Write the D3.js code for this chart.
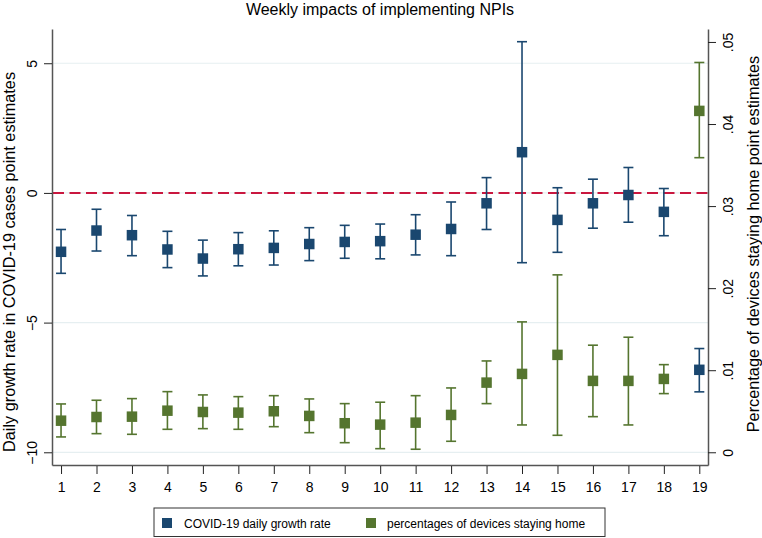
<!DOCTYPE html>
<html>
<head>
<meta charset="utf-8">
<script src="https://cdn.jsdelivr.net/npm/d3@7"></script>
<style>
  html, body { margin: 0; padding: 0; background: #fff; }
  svg { display: block; font-family: "Liberation Sans", Arial, Helvetica, sans-serif; }
</style>
</head>
<body>
<svg id="chart" width="762" height="538"></svg>
<script>
// ---- Data ----
const weeks = [1,2,3,4,5,6,7,8,9,10,11,12,13,14,15,16,17,18,19];
const covidEst = [-2.27,-1.45,-1.63,-2.18,-2.53,-2.17,-2.12,-1.97,-1.89,-1.86,-1.61,-1.39,-0.40,1.57,-1.04,-0.40,-0.08,-0.73,-6.82];
const covidLo  = [-3.10,-2.24,-2.42,-2.88,-3.20,-2.81,-2.78,-2.61,-2.52,-2.54,-2.39,-2.42,-1.41,-2.69,-2.29,-1.36,-1.13,-1.65,-7.67];
const covidHi  = [-1.41,-0.63,-0.87,-1.48,-1.82,-1.53,-1.46,-1.34,-1.25,-1.20,-0.84,-0.35,0.59,5.83,0.20,0.53,0.98,0.17,-6.00];
const devEst = [0.00385,0.00430,0.00434,0.00507,0.00491,0.00483,0.00500,0.00443,0.00354,0.00337,0.00361,0.00455,0.00849,0.00955,0.01187,0.00870,0.00870,0.00894,0.0416];
const devLo  = [0.00187,0.00227,0.00219,0.00280,0.00288,0.00280,0.00312,0.00239,0.00117,0.00044,0.00037,0.00134,0.00593,0.00333,0.00207,0.00434,0.00333,0.00715,0.0359];
const devHi  = [0.00589,0.00634,0.00654,0.00739,0.00699,0.00678,0.00690,0.00650,0.00593,0.00610,0.00690,0.00784,0.01113,0.01589,0.02162,0.01305,0.01402,0.01068,0.0475];
const leftTicks = [-10,-5,0,5];
const rightTicks = [0,0.01,0.02,0.03,0.04,0.05];
const seriesNames = ["COVID-19 daily growth rate", "percentages of devices staying home"];
const titleText = "Weekly impacts of implementing NPIs";
const leftTitle = "Daily growth rate in COVID-19 cases point estimates";
const rightTitle = "Percentage of devices staying home point estimates";

// ---- Style ----
const BLUE = "#1a476f", GREEN = "#55752f", RED = "#c9173f", GRID = "#e6eff1";
const L = 52, R = 708, T = 29, B = 465;

const svg = d3.select("#chart");
const x = d3.scaleLinear().domain([0.745, 19.245]).range([L, R]);
const yL = d3.scaleLinear().domain([-10.49, 6.32]).range([B, T]);
const yR = d3.scaleLinear().domain([-0.00155, 0.05158]).range([B, T]);

// gridlines
svg.append("g").selectAll("line").data(leftTicks).join("line")
  .attr("x1", L).attr("x2", R)
  .attr("y1", d => yL(d)).attr("y2", d => yL(d))
  .attr("stroke", GRID).attr("stroke-width", 1.2);

// zero reference line
svg.append("line")
  .attr("x1", L + 1).attr("x2", R)
  .attr("y1", yL(0)).attr("y2", yL(0))
  .attr("stroke", RED).attr("stroke-width", 2)
  .attr("stroke-dasharray", "11,5.5");

// axes
const fmtR = d => d === 0 ? "0" : d3.format(".2f")(d).replace(/^0/, "");
const gL = svg.append("g").attr("transform", `translate(${L},0)`)
  .call(d3.axisLeft(yL).tickValues(leftTicks).tickSize(8).tickSizeOuter(0));
const gR = svg.append("g").attr("transform", `translate(${R},0)`)
  .call(d3.axisRight(yR).tickValues(rightTicks).tickFormat(fmtR).tickSize(8).tickSizeOuter(0));
const gB = svg.append("g").attr("transform", `translate(0,${B})`)
  .call(d3.axisBottom(x).tickValues(weeks).tickFormat(d3.format("d")).tickSize(8).tickSizeOuter(0));

[gL, gR, gB].forEach(g => {
  g.select(".domain").attr("stroke", "#555").attr("stroke-width", 1.5);
  g.selectAll(".tick line").attr("stroke", "#222").attr("stroke-width", 1);
  g.selectAll(".tick text").attr("fill", "#000").style("font-size", "14px")
    .style("font-family", "\"Liberation Sans\", Arial, Helvetica, sans-serif");
});
gL.selectAll(".tick text").attr("x", 0).attr("y", 0).attr("dy", 0)
  .attr("text-anchor", "middle").attr("transform", "translate(-15,0) rotate(-90)");
gR.selectAll(".tick text").attr("x", 0).attr("y", 0).attr("dy", 0)
  .attr("text-anchor", "middle").attr("transform", "translate(25,0) rotate(-90)");
gB.selectAll(".tick line").attr("y1", 1).attr("y2", 9);
gB.selectAll(".tick text").attr("y", 26.5).attr("dy", 0);
gL.attr("font-size", null); gR.attr("font-size", null); gB.attr("font-size", null);

// error bars + markers
function drawSeries(est, lo, hi, yScale, color) {
  const data = weeks.map((w, i) => ({w, e: est[i], l: lo[i], h: hi[i]}));
  const g = svg.append("g").attr("stroke", color).attr("fill", color);
  const cap = 5, ms = 10.5;
  g.selectAll("line.v").data(data).join("line").attr("class", "v")
    .attr("x1", d => x(d.w)).attr("x2", d => x(d.w))
    .attr("y1", d => yScale(d.l)).attr("y2", d => yScale(d.h)).attr("stroke-width", 1.6);
  g.selectAll("line.ch").data(data).join("line").attr("class", "ch")
    .attr("x1", d => x(d.w) - cap).attr("x2", d => x(d.w) + cap)
    .attr("y1", d => yScale(d.h)).attr("y2", d => yScale(d.h)).attr("stroke-width", 1.6);
  g.selectAll("line.cl").data(data).join("line").attr("class", "cl")
    .attr("x1", d => x(d.w) - cap).attr("x2", d => x(d.w) + cap)
    .attr("y1", d => yScale(d.l)).attr("y2", d => yScale(d.l)).attr("stroke-width", 1.6);
  g.selectAll("rect").data(data).join("rect")
    .attr("x", d => x(d.w) - ms / 2).attr("y", d => yScale(d.e) - ms / 2)
    .attr("width", ms).attr("height", ms).attr("stroke", "none");
}
drawSeries(devEst, devLo, devHi, yR, GREEN);
drawSeries(covidEst, covidLo, covidHi, yL, BLUE);

// title
svg.append("text").attr("x", 380).attr("y", 15).attr("text-anchor", "middle")
  .style("font-size", "16px").attr("fill", "#000").text(titleText);

// axis titles
svg.append("text").attr("transform", "translate(15,262) rotate(-90)")
  .attr("text-anchor", "middle").style("font-size", "16.3px").attr("fill", "#000").text(leftTitle);
svg.append("text").attr("transform", "translate(759,244) rotate(-90)")
  .attr("text-anchor", "middle").style("font-size", "16.3px").attr("fill", "#000").text(rightTitle);

// legend
const lg = svg.append("g");
lg.append("rect").attr("x", 154).attr("y", 508).attr("width", 451).attr("height", 28.5)
  .attr("fill", "#fff").attr("stroke", "#333").attr("stroke-width", 1);
const legendItems = [
  {name: seriesNames[0], color: BLUE, mx: 167, tx: 184},
  {name: seriesNames[1], color: GREEN, mx: 371, tx: 387}
];
legendItems.forEach(it => {
  lg.append("rect").attr("x", it.mx - 5).attr("y", 518).attr("width", 10).attr("height", 10).attr("fill", it.color);
  lg.append("text").attr("x", it.tx).attr("y", 527.5).style("font-size", "12px").attr("fill", "#000").text(it.name);
});
</script>
</body>
</html>
